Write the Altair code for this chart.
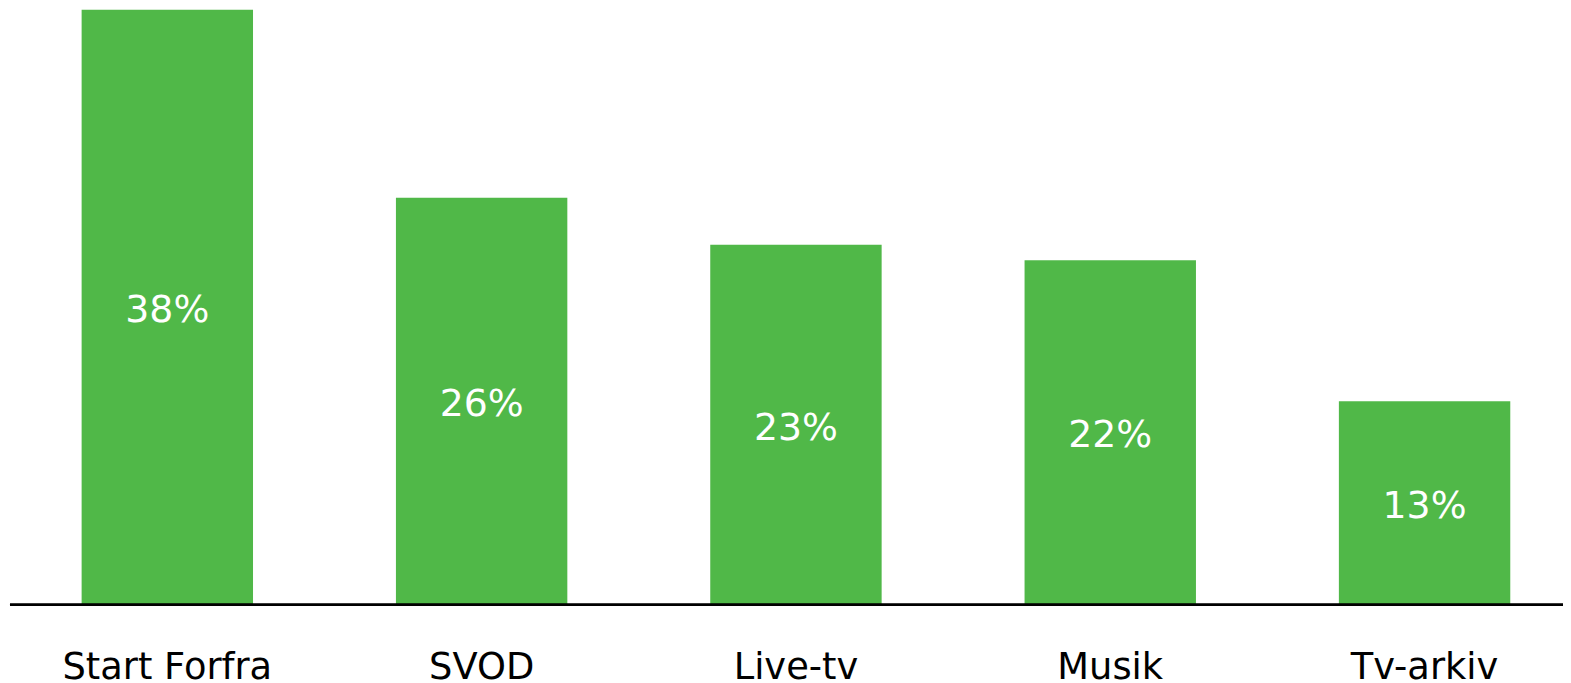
import altair as alt
import pandas as pd

categories = ["Start Forfra", "SVOD", "Live-tv", "Musik", "Tv-arkiv"]
values = [38, 26, 23, 22, 13]
labels = ["38%", "26%", "23%", "22%", "13%"]

df = pd.DataFrame({"cat": categories, "val": values, "lab": labels, "mid": [v / 2 for v in values]})

W, H = 1561, 598
xscale = alt.Scale(domain=categories, range=[72, 1508], paddingInner=0.4547, paddingOuter=0, round=False)
yscale = alt.Scale(domain=[0, 38], nice=False, zero=True)

bars = alt.Chart(df).mark_bar(color="#50B848").encode(
    x=alt.X("cat:N", scale=xscale, sort=categories, title=None,
            axis=alt.Axis(domain=False, ticks=False, labelAngle=0, labelFont="DejaVu Sans",
                          labelFontSize=37, labelColor="#000000", labelPadding=45,
                          labelBaseline="top", grid=False, labelLimit=0)),
    y=alt.Y("val:Q", scale=yscale, axis=None),
)

text = alt.Chart(df).mark_text(color="white", font="DejaVu Sans", fontSize=38,
                               baseline="middle", align="center", dy=4).encode(
    x=alt.X("cat:N", scale=xscale, sort=categories),
    y=alt.Y("mid:Q", scale=yscale),
    text="lab:N",
)

rule = alt.Chart(df).mark_rule(color="#000000", strokeWidth=2).encode(
    x=alt.value(0), x2=alt.value(W), y=alt.value(H)
)

chart = alt.layer(bars, text, rule).properties(
    width=W, height=H, padding={"left": 2, "top": 0, "right": 0, "bottom": 100},
    autosize=alt.AutoSizeParams(type="none")
).configure_view(stroke=None)

chart.save("out.html", embed_options={"renderer": "svg", "actions": False})
